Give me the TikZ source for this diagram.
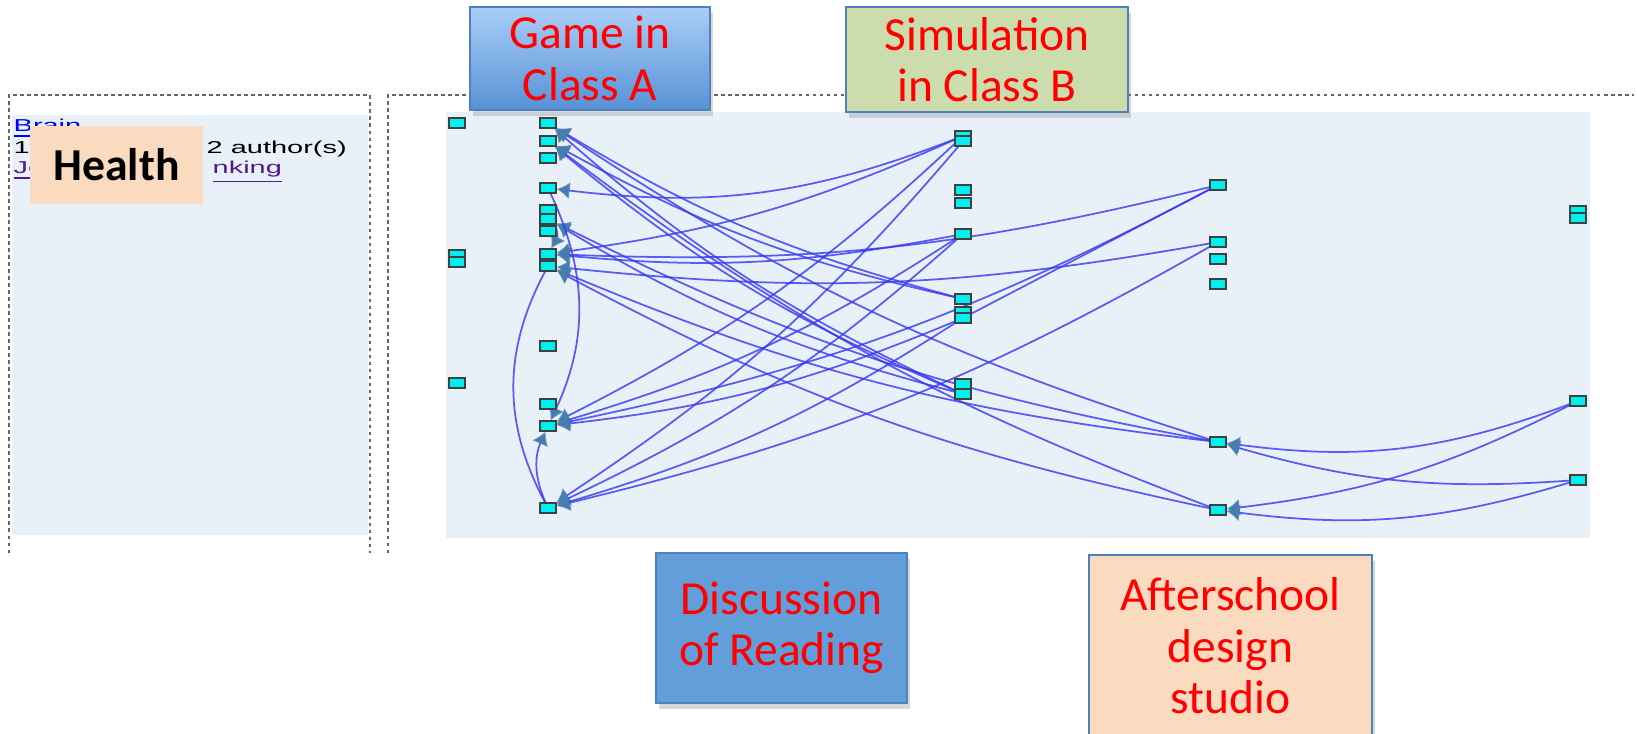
\documentclass[tikz,border=0pt]{standalone}
\usepackage{fontspec}
\setmainfont{Carlito}
\newfontfamily\webfont{Liberation Sans}
\usetikzlibrary{arrows.meta,shadows}
\definecolor{edgeblue}{RGB}{55,55,240}
\definecolor{tipblue}{RGB}{70,125,175}
\definecolor{paneblue}{RGB}{232,240,248}
\definecolor{itemcyan}{RGB}{0,240,240}
\definecolor{peach}{RGB}{251,219,192}
\definecolor{sage}{RGB}{205,220,172}
\definecolor{boxblue}{RGB}{98,158,218}
\definecolor{gametop}{RGB}{170,205,248}
\definecolor{gamebottom}{RGB}{86,146,214}
\definecolor{boxedge}{RGB}{79,129,189}
\definecolor{linkblue}{RGB}{0,0,238}
\definecolor{visited}{RGB}{85,26,139}
\pgfdeclarelayer{bg}
\pgfdeclarelayer{edges}
\pgfsetlayers{bg,edges,main}
% screenshot text is stretched sideways
\newcommand{\wide}[1]{\scalebox{1.68}[1]{#1}}

\begin{document}
\begin{tikzpicture}[x=0.01cm, y=-0.01cm,
    item/.style={draw=black!75, fill=itemcyan, line width=0.5pt, minimum width=1.55mm, minimum height=0.95mm, inner sep=0pt},
    link/.style={edgeblue, line width=0.5pt, draw opacity=0.8, -{Latex[length=1.3mm,width=1.7mm,color=tipblue]}},
    plain/.style={edgeblue, line width=0.5pt, draw opacity=0.8},
    label/.style={draw=boxedge, line width=0.6pt, text=red, align=center, inner sep=0pt,
        font=\fontsize{13.5}{14.6}\selectfont, drop shadow={opacity=0.3, shadow xshift=0.3mm, shadow yshift=-0.6mm}},
    small/.style={font=\webfont\fontsize{4.9}{6}\selectfont, inner sep=0pt, anchor=base west},
    border/.style={black!60, line width=0.8pt, dash pattern=on 0.35mm off 0.35mm}]
    \useasboundingbox (0,0) rectangle (1637,733);
    %%%%%%%%%%%%%%% Panels
    \begin{pgfonlayer}{bg}
        \fill[white] (0,0) rectangle (1637,733);
        \fill[paneblue] (12,115) rectangle (368,535);
        \fill[paneblue] (446,112) rectangle (1590,538);
    \end{pgfonlayer}
    \draw[border] (9,553) -- (9,95) -- (370,95) -- (370,553);
    \draw[border] (388,553) -- (388,95) -- (1634,95);
    %%%%%%%%%%%%%%% Left panel text
    \node[small, text=linkblue] (brain) at (13,131) {\wide{\underline{Brain}}};
    \node[small] (year) at (13,153) {\wide{19}};
    \node[small] (authors) at (206,153) {\wide{2 author(s)}};
    \node[small, text=visited] (jo) at (13,173) {\wide{\underline{Jo}}};
    \node[small, text=visited] (nking) at (212,173) {\wide{\underline{nking}}};
    \node[fill=peach, minimum width=17.3mm, minimum height=7.8mm, inner sep=0pt,
        font=\bfseries\fontsize{13}{15}\selectfont] (health) at (116.5,165) {Health};
    %%%%%%%%%%%%%%% Items, one column after the other
    \foreach \n/\y in {1/123, 2/255, 2b/262, 3/383} {
        \node[item] (a\n) at (457,\y) {};
    }
    \foreach \n/\y in {1/123, 2/141, 3/158, 4/188, 5/210, 6/219, 7/231, 8/254, 9/266, 10/346, 11/404, 12/426, 13/508} {
        \node[item] (b\n) at (548,\y) {};
    }
    \foreach \n/\y in {1/136, 1b/141, 2/190, 3/203, 4/234, 5/299, 6/312, 6b/318, 7/384, 8/394} {
        \node[item] (c\n) at (963,\y) {};
    }
    \foreach \n/\y in {1/185, 2/242, 3/259, 4/284, 5/442, 6/510} {
        \node[item] (d\n) at (1218,\y) {};
    }
    \foreach \n/\y in {1/211, 1b/218, 2/401, 3/480} {
        \node[item] (e\n) at (1578,\y) {};
    }
    %%%%%%%%%%%%%%% Links
    \begin{pgfonlayer}{edges}
        \foreach \s/\t in {c5/b1, c8/b1, d5/b1, c5/b2, c8/b2, d6/b2, c8/b6, d5/b6,
                c1/b8, c4/b8, d1/b8, d2/b9, d5/b9, d6/b9, c1/b12, c6b/b12, d1/b12,
                c4/b12, c1b/b13, c4/b13, d2/b13, c6b/b13} {
            \draw[link] (\s) to[bend left=8] (\t);
        }
        \draw[link] (c1) to[bend left=14] (b4);
        \draw[link] (b4) to[bend left=25] (b12);
        \draw[link] (b13) to[bend left=24] (b12);
        \draw[plain] (b13) to[bend left=28] (b9);
        \draw[link] (b5) to[bend left=30] (b8);
        \draw[plain] (d1) -- (c6b);
        \draw[link] (e2) to[bend left=14] (d5);
        \draw[link] (e2) to[bend left=10] (d6);
        \draw[link] (e3) to[bend left=10] (d5);
        \draw[link] (e3) to[bend left=12] (d6);
    \end{pgfonlayer}
    %%%%%%%%%%%%%%% Setting boxes
    \node[label, top color=gametop, bottom color=gamebottom, minimum width=24mm, minimum height=10.3mm] (game) at (590,58.5) {Game in\\Class A};
    \node[label, fill=sage, minimum width=28.2mm, minimum height=10.5mm] (sim) at (987,59.5) {Simulation\\in Class B};
    \node[label, fill=boxblue, minimum width=25.1mm, minimum height=15mm] (reading) at (781.5,628) {Discussion\\of Reading};
    \node[label, fill=peach, minimum width=28.3mm, minimum height=18.2mm] (studio) at (1230.5,646) {Afterschool\\design\\studio};
\end{tikzpicture}
\end{document}
